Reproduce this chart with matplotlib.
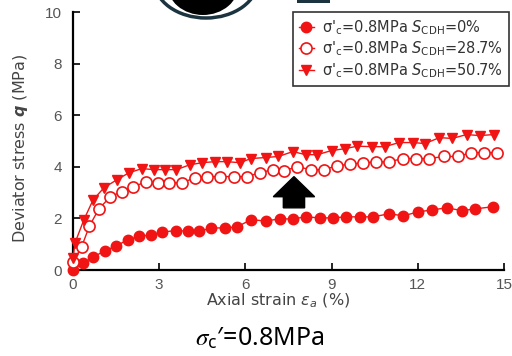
import matplotlib
matplotlib.use("Agg")
import matplotlib.pyplot as plt
from matplotlib.patches import Ellipse, Rectangle

plt.rcParams['font.family'] = ['Liberation Sans', 'DejaVu Sans']
plt.rcParams['mathtext.fontset'] = 'dejavusans'

# S_CDH = 0 %
x0 = [0, 0.35, 0.7, 1.1, 1.5, 1.9, 2.3, 2.7, 3.1, 3.6, 4.0, 4.4, 4.8, 5.3, 5.7,
      6.2, 6.7, 7.2, 7.65, 8.1, 8.6, 9.05, 9.5, 10.0, 10.45, 11.0, 11.5, 12.0,
      12.5, 13.0, 13.55, 14.0, 14.6]
y0 = [0, 0.27, 0.5, 0.74, 0.93, 1.17, 1.3, 1.36, 1.47, 1.53, 1.5, 1.5, 1.63, 1.63,
      1.67, 1.95, 1.9, 1.98, 1.98, 2.06, 2.02, 2.02, 2.06, 2.06, 2.06, 2.18, 2.1,
      2.25, 2.33, 2.41, 2.3, 2.37, 2.45]

# S_CDH = 28.7 %
x1 = [0, 0.3, 0.57, 0.9, 1.3, 1.7, 2.1, 2.55, 2.95, 3.35, 3.8, 4.25, 4.65, 5.1,
      5.6, 6.05, 6.5, 6.95, 7.35, 7.8, 8.3, 8.75, 9.2, 9.65, 10.1, 10.55, 11.0,
      11.5, 11.95, 12.4, 12.9, 13.4, 13.85, 14.3, 14.75]
y1 = [0.3, 0.9, 1.7, 2.37, 2.84, 3.04, 3.23, 3.42, 3.38, 3.38, 3.38, 3.58, 3.62,
      3.62, 3.62, 3.62, 3.77, 3.89, 3.85, 4.0, 3.89, 3.89, 4.05, 4.1, 4.16, 4.18,
      4.2, 4.32, 4.32, 4.32, 4.4, 4.4, 4.55, 4.55, 4.55]

# S_CDH = 50.7 %
x2 = [0, 0.07, 0.38, 0.7, 1.08, 1.53, 1.95, 2.4, 2.82, 3.2, 3.6, 4.07, 4.5, 4.95,
      5.35, 5.8, 6.2, 6.7, 7.15, 7.65, 8.1, 8.5, 9.0, 9.45, 9.9, 10.4, 10.85,
      11.35, 11.85, 12.25, 12.75, 13.2, 13.7, 14.15, 14.65]
y2 = [0.45, 1.05, 1.95, 2.72, 3.19, 3.5, 3.77, 3.93, 3.89, 3.89, 3.89, 4.08, 4.16,
      4.2, 4.2, 4.16, 4.32, 4.36, 4.4, 4.59, 4.47, 4.47, 4.63, 4.7, 4.8, 4.78,
      4.78, 4.94, 4.94, 4.9, 5.13, 5.1, 5.25, 5.21, 5.25]

labels = [r"σ'$_\mathregular{c}$=0.8MPa $S_{\mathregular{CDH}}$=0%",
          r"σ'$_\mathregular{c}$=0.8MPa $S_{\mathregular{CDH}}$=28.7%",
          r"σ'$_\mathregular{c}$=0.8MPa $S_{\mathregular{CDH}}$=50.7%"]

red = '#f01414'
gray = '#444444'

fig = plt.figure(figsize=(5.12, 3.56), dpi=100)
ax = fig.add_axes([73 / 512, 1 - 270 / 356, 431 / 512, 258 / 356])

ax.plot(x0, y0, '-o', color=red, lw=1, ms=7.5, mfc=red, mec=red,
        label=labels[0], clip_on=False, zorder=3)
ax.plot(x1, y1, '-o', color=red, lw=1, ms=8, mfc='white', mec=red, mew=1.2,
        label=labels[1], clip_on=False, zorder=3)
ax.plot(x2, y2, '-v', color=red, lw=1, ms=7, mfc=red, mec=red,
        label=labels[2], clip_on=False, zorder=3)

ax.set_xlim(0, 15)
ax.set_ylim(0, 10)
ax.set_xticks([0, 3, 6, 9, 12, 15])
ax.set_yticks([0, 2, 4, 6, 8, 10])
ax.spines['top'].set_visible(False)
ax.spines['right'].set_visible(False)
for s in ['left', 'bottom']:
    ax.spines[s].set_linewidth(1.6)
ax.tick_params(direction='in', length=5, width=1.2, labelsize=11,
               labelcolor='#555555')
ax.tick_params(axis='y', pad=8)
ax.tick_params(axis='x', pad=6)

ax.set_ylabel(r"Deviator stress $\boldsymbol{q}$ (MPa)", fontsize=11.5,
              color=gray, family='DejaVu Sans')
ax.set_xlabel(r"Axial strain $\varepsilon_a$ (%)", fontsize=11.5,
              color=gray, family='DejaVu Sans')
ax.yaxis.set_label_coords(-43 / 431, 0.47)
ax.xaxis.set_label_coords(0.475, -22 / 258)

leg = ax.legend(loc='upper right', bbox_to_anchor=(1.012, 1.0),
                prop={'family': 'DejaVu Sans', 'size': 10.5},
                frameon=True, fancybox=False, edgecolor='black',
                handlelength=1.0, handletextpad=0.6, borderpad=0.4,
                labelspacing=0.2, borderaxespad=0)
leg.get_frame().set_linewidth(1.2)
for t in leg.get_texts():
    t.set_color('#333333')

# black up arrow (annotation)
ax_c, ax_b, ax_t = 7.69, 2.41, 3.62
hw, sw, hl = 0.72, 0.37, 0.78
ax.fill([ax_c - sw, ax_c + sw, ax_c + sw, ax_c + hw, ax_c, ax_c - hw, ax_c - sw],
        [ax_b, ax_b, ax_t - hl, ax_t - hl, ax_t, ax_t - hl, ax_t - hl],
        facecolor='black', edgecolor='black', lw=1, zorder=4)

# cropped shapes at top edge
fig.patches.append(Ellipse((206 / 512, 1 + 20 / 356), 104 / 512, 76 / 356,
                           transform=fig.transFigure, facecolor='white',
                           edgecolor='#1c3440', lw=2.5, zorder=5))
fig.patches.append(Ellipse((203 / 512, 1 + 16 / 356), 72 / 512, 62 / 356,
                           transform=fig.transFigure, facecolor='black',
                           edgecolor='none', zorder=6))
fig.patches.append(Rectangle((297 / 512, 1 - 3 / 356), 33 / 512, 3 / 356,
                             transform=fig.transFigure, facecolor='#1c3440',
                             edgecolor='none', zorder=5))

fig.text(260 / 512, 1 - 339 / 356, r"$\sigma_\mathregular{c}$′=0.8MPa",
         fontsize=18, ha='center', va='center', math_fontfamily='stix',
         family=['Noto Sans', 'DejaVu Sans'])

fig.savefig('out.png', dpi=100)
